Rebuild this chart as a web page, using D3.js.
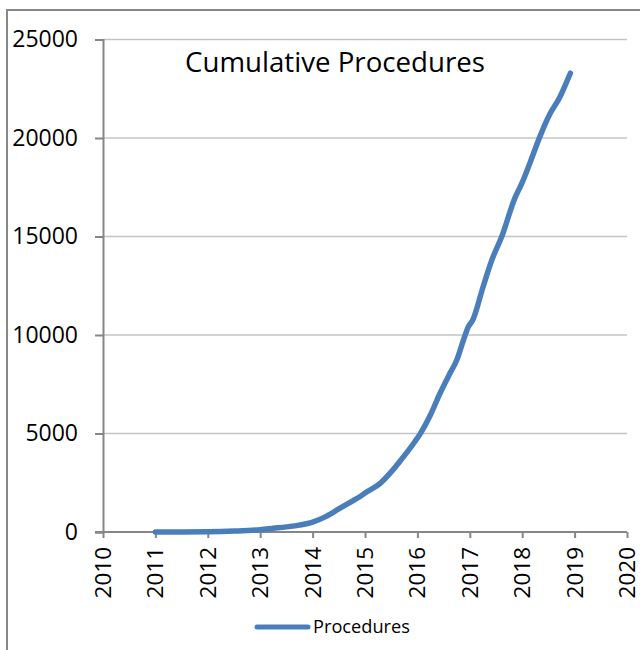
<!DOCTYPE html>
<html><head><meta charset="utf-8">
<script src="https://cdn.jsdelivr.net/npm/d3@7"></script>
<style>
html,body{margin:0;padding:0;background:#fff;}
svg{display:block;font-family:"Open Sans",sans-serif;}
</style></head>
<body>
<svg id="c" width="640" height="650"></svg>
<script>
// Data (decimal year, cumulative procedures)
const years  = [2011.0, 2011.5, 2012.0, 2012.5, 2013.0, 2013.25, 2013.5, 2013.75, 2014.0, 2014.25, 2014.5, 2014.75, 2014.9, 2015.0, 2015.29, 2015.5, 2015.67, 2015.95, 2016.05, 2016.25, 2016.43, 2016.6, 2016.75, 2016.91, 2016.97, 2017.05, 2017.26, 2017.42, 2017.61, 2017.86, 2017.99, 2018.15, 2018.33, 2018.53, 2018.72, 2018.82, 2018.92];
const values = [0, 5, 15, 50, 120, 190, 260, 350, 500, 780, 1170, 1560, 1790, 1980, 2470, 3050, 3600, 4580, 4970, 5950, 7030, 7950, 8720, 9990, 10410, 10720, 12500, 13800, 15000, 16950, 17680, 18750, 20020, 21230, 22080, 22670, 23290];
const xTicks = [2010, 2011, 2012, 2013, 2014, 2015, 2016, 2017, 2018, 2019, 2020];
const yTicks = [0, 5000, 10000, 15000, 20000, 25000];
const seriesName = "Procedures";
const title = "Cumulative Procedures";

const svg = d3.select("#c");
const L = 103, R = 627, T = 39.5, B = 532;
const x = d3.scaleLinear().domain([2010, 2020]).range([L, R]);
const y = d3.scaleLinear().domain([0, 25000]).range([B, T]);
const blue = "#4a7ebb";

function fit(sel, target) {
  sel.attr("font-size", 20);
  const w = sel.node().getComputedTextLength();
  sel.attr("font-size", 20 * target / w);
}

// outer border
svg.append("rect").attr("x", 7).attr("y", 10).attr("width", 700).attr("height", 700)
  .attr("fill", "none").attr("stroke", "#888").attr("stroke-width", 2);

// gridlines
svg.append("g").selectAll("line").data(yTicks.filter(d => d > 0)).join("line")
  .attr("x1", L).attr("x2", R).attr("y1", d => y(d)).attr("y2", d => y(d))
  .attr("stroke", "#c4c4c4").attr("stroke-width", 1.5);

// y axis
const yAx = svg.append("g").attr("transform", `translate(${L},0)`)
  .call(d3.axisLeft(y).tickValues(yTicks).tickSize(8).tickPadding(17).tickFormat(d3.format("d")));
yAx.select(".domain").attr("stroke", "#868686").attr("stroke-width", 2);
yAx.selectAll(".tick line").attr("stroke", "#868686").attr("stroke-width", 2);
yAx.selectAll("text").attr("fill", "#000").attr("font-family", "Open Sans").attr("font-size", 23);

// x axis
const xAx = svg.append("g").attr("transform", `translate(0,${B})`)
  .call(d3.axisBottom(x).tickValues(xTicks).tickSize(6).tickSizeOuter(0).tickFormat(d3.format("d")));
xAx.select(".domain").attr("stroke", "#868686").attr("stroke-width", 2).attr("d", `M${L-8},0H${R}`);
xAx.selectAll(".tick line").attr("stroke", "#868686").attr("stroke-width", 2);
xAx.selectAll("text").attr("fill", "#000").attr("font-family", "Open Sans").attr("font-size", 22.5)
  .attr("transform", "rotate(-90)").attr("text-anchor", "end")
  .attr("x", -15).attr("y", 0).attr("dy", "0.33em");

// line
const pts = years.map((yr, i) => [yr, values[i]]);
svg.append("path").datum(pts)
  .attr("d", d3.line().x(d => x(d[0])).y(d => y(d[1])).curve(d3.curveMonotoneX))
  .attr("fill", "none").attr("stroke", blue).attr("stroke-width", 5.5)
  .attr("stroke-linecap", "round").attr("stroke-linejoin", "round");

// title
const t = svg.append("text").attr("x", 335).attr("y", 72).attr("text-anchor", "middle")
  .attr("fill", "#000").text(title);
fit(t, 300);

// legend
svg.append("line").attr("x1", 257).attr("x2", 308).attr("y1", 627).attr("y2", 627)
  .attr("stroke", blue).attr("stroke-width", 5).attr("stroke-linecap", "round");
const lt = svg.append("text").attr("x", 313).attr("y", 633).attr("fill", "#000").text(seriesName);
fit(lt, 97);
</script>
</body></html>
